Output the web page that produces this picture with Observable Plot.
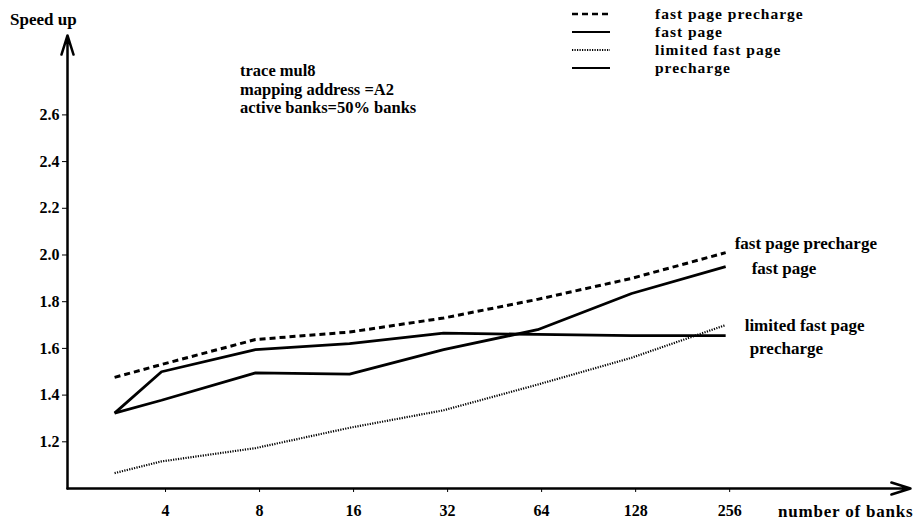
<!DOCTYPE html>
<html>
<head>
<meta charset="utf-8">
<script src="https://cdn.jsdelivr.net/npm/d3@7"></script>
<script src="https://cdn.jsdelivr.net/npm/@observablehq/plot@0.6"></script>
<style>
  html, body { margin: 0; padding: 0; background: #fff; }
  #chart { width: 921px; height: 527px; }
</style>
</head>
<body>
<div id="chart"></div>
<script>
// Number of banks (first point is unlabeled on the axis)
const banks = [2.83, 4, 8, 16, 32, 64, 128, 256];
const xTickValues = [4, 8, 16, 32, 64, 128, 256];
const yTickValues = [1.2, 1.4, 1.6, 1.8, 2.0, 2.2, 2.4, 2.6];

const fastPagePrecharge = [1.476, 1.531, 1.638, 1.670, 1.730, 1.810, 1.900, 2.010];
const fastPage          = [1.323, 1.378, 1.495, 1.490, 1.595, 1.680, 1.835, 1.950];
const limitedFastPage   = [1.066, 1.116, 1.173, 1.260, 1.335, 1.445, 1.560, 1.700];
const precharge         = [1.323, 1.500, 1.595, 1.620, 1.665, 1.660, 1.655, 1.655];

const seriesNames = ["fast page precharge", "fast page", "limited fast page", "precharge"];
const seriesValues = [fastPagePrecharge, fastPage, limitedFastPage, precharge];
const seriesDash = ["6,4", null, "1.2,1.3", null];
const seriesWidth = [3, 2.8, 2.2, 2.8];

const annotation = ["trace mul8", "mapping address =A2", "active banks=50% banks"];
const endLabels = [
  {text: "fast page precharge", dx: 9,  dy: -9},
  {text: "fast page",           dx: 26, dy: 2},
  {text: "limited fast page",   dx: 19, dy: 1},
  {text: "precharge",           dx: 24, dy: 13}
];

const xDomain = [2, 1000];
const yDomain = [1.0, 2.94];

const font = "'Liberation Serif', 'DejaVu Serif', serif";

const marks = [];

// axes with arrows
marks.push(Plot.arrow([{x1: xDomain[0], x2: xDomain[1], y: yDomain[0]}], {
  x1: "x1", x2: "x2", y1: "y", y2: "y", stroke: "#000", strokeWidth: 2.5,
  headLength: 12, headAngle: 35, insetEnd: 0
}));
marks.push(Plot.arrow([{x: xDomain[0], y1: yDomain[0], y2: yDomain[1]}], {
  x1: "x", x2: "x", y1: "y1", y2: "y2", stroke: "#000", strokeWidth: 2.5,
  headLength: 12, headAngle: 35, insetEnd: 0
}));

// series lines
seriesValues.forEach((vals, i) => {
  const data = banks.map((b, j) => ({x: b, y: vals[j]}));
  marks.push(Plot.line(data, {
    x: "x", y: "y", stroke: "#000", strokeWidth: seriesWidth[i],
    strokeDasharray: seriesDash[i] || undefined, strokeLinejoin: "miter", strokeLinecap: "butt"
  }));
});

// end labels
seriesValues.forEach((vals, i) => {
  const last = banks.length - 1;
  marks.push(Plot.text([{x: banks[last], y: vals[last]}], {
    x: "x", y: "y", text: () => endLabels[i].text, textAnchor: "start",
    dx: endLabels[i].dx, dy: endLabels[i].dy, fontSize: 17, fontWeight: "bold", fill: "#000"
  }));
});

marks.push(Plot.axisX({ticks: xTickValues, tickFormat: d => String(d), tickSize: 4,
  tickPadding: 12, fontSize: 16, fontWeight: "bold", dx: 4}));
marks.push(Plot.axisY({ticks: yTickValues, tickFormat: d => d.toFixed(1), tickSize: 5,
  tickPadding: 3, fontSize: 16, fontWeight: "bold"}));

const plot = Plot.plot({
  width: 921,
  height: 527,
  marginLeft: 67,
  marginRight: 11,
  marginTop: 35,
  marginBottom: 39,
  style: {fontFamily: font, background: "#fff", color: "#000"},
  x: {type: "log", base: 2, domain: xDomain, label: null},
  y: {domain: yDomain, label: null},
  marks
});

// Extra text, legend, axis titles drawn into the SVG
const svg = d3.select(plot);

svg.append("text").attr("x", 10).attr("y", 25).attr("text-anchor", "start")
  .attr("font-family", font).attr("font-size", 17).attr("font-weight", "bold").text("Speed up");
svg.append("text").attr("x", 778).attr("y", 517).attr("text-anchor", "start")
  .attr("font-family", font).attr("font-size", 17).attr("font-weight", "bold")
  .attr("letter-spacing", 0.8).text("number of banks");

annotation.forEach((t, i) => {
  svg.append("text").attr("x", 240).attr("y", 76 + i * 18.5).attr("text-anchor", "start")
    .attr("font-family", font).attr("font-size", 16.5).attr("font-weight", "bold").text(t);
});

// legend
seriesNames.forEach((name, i) => {
  const y = 14 + i * 18;
  svg.append("line").attr("x1", 572).attr("x2", 610).attr("y1", y).attr("y2", y)
    .attr("stroke", "#000").attr("stroke-width", seriesWidth[i] * 0.8)
    .attr("stroke-dasharray", seriesDash[i]);
  svg.append("text").attr("x", 655).attr("y", y + 5).attr("text-anchor", "start")
    .attr("font-family", font).attr("font-size", 15.5).attr("font-weight", "bold")
    .attr("letter-spacing", 1).text(name);
});

document.getElementById("chart").appendChild(plot);
</script>
</body>
</html>
